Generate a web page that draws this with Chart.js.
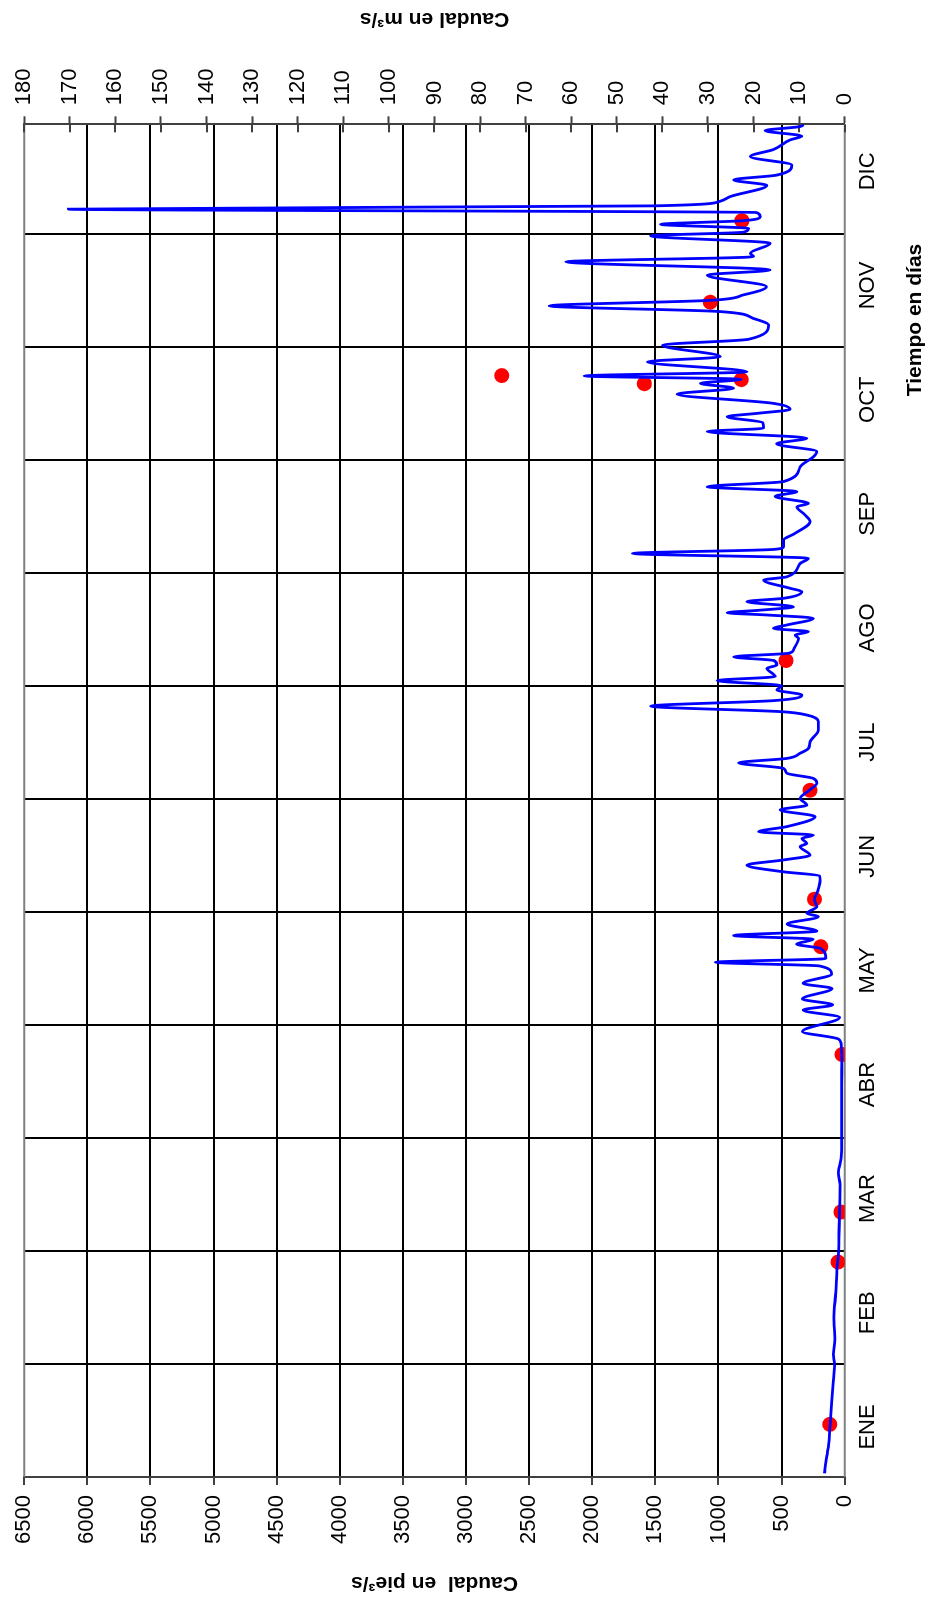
<!DOCTYPE html>
<html>
<head>
<meta charset="utf-8">
<script src="https://cdn.jsdelivr.net/npm/chart.js@4.4.0/dist/chart.umd.min.js"></script>
<style>
html, body { margin: 0; padding: 0; width: 932px; height: 1602px; overflow: hidden; background: #fff; }
#wrap { position: absolute; left: 0; top: 0; width: 1602px; height: 932px;
        transform-origin: 0 0; transform: translateY(1602px) rotate(-90deg); }
</style>
</head>
<body>
<div id="wrap"><canvas id="chart" width="1602" height="932"></canvas></div>
<script>
// chart is drawn landscape and the whole block is turned 90deg to the left

const monthLabels = ['ENE', 'FEB', 'MAR', 'ABR', 'MAY', 'JUN', 'JUL', 'AGO', 'SEP', 'OCT', 'NOV', 'DIC'];

// daily flow (pie3/s), read at the turning points of the curve
const flowDays = [
    1, 4, 6, 8, 14, 20, 26, 30.5, 33, 37, 43, 50, 56, 60, 66, 72, 79, 82, 86, 91,
    100, 106, 113, 117, 118.2, 120.2, 124, 126, 127.4, 129, 131.8, 133.2, 135.7, 137.9, 138.9, 139.9,
    142.6, 143.8, 145.1, 146.1, 147.3, 149.2, 151.2, 152.1, 153.9, 155.9, 158, 161.1, 162.2, 163.3,
    165.1, 166.5, 167.8, 170.1, 171, 172.3, 173.2, 174.1, 175.5, 178.2, 180, 181.3, 183.1, 185.3,
    187.2, 188.5, 189.9, 191.2, 192.7, 193.9, 195.3, 196.6, 198.4, 201.6, 203.8, 205.6, 206.5, 208,
    209.5, 211, 212.4, 213.5, 214.9, 216, 218.2, 219.1, 220.3, 221.3, 222.3, 223.2, 226.3, 227.2,
    228.1, 229, 229.9, 231.7, 232.6, 233.2, 233.9, 234.8, 236.2, 237.1, 238.9, 239.8, 242, 242.9,
    246.5, 247.9, 249.2, 250.3, 251, 252.8, 254.5, 257.8, 259.6, 261.8, 262.7, 264.6, 265.9, 267.2,
    268.6, 272.6, 275.3, 276.7, 278.8, 280.3, 282.1, 283, 284.5, 286.1, 287, 288.1, 289.7, 292.2,
    293.8, 295.1, 296.2, 297.1, 298.2, 300.9, 302.3, 305.4, 307, 310.8, 312.6, 314.5, 316, 317.5,
    319, 321.2, 324.3, 325.7, 327.9, 329.3, 330.2, 332.9, 334.9, 335.9, 336.9, 338, 339, 340.1,
    341.2, 342.1, 343, 344.2, 345.5, 348.5, 350, 351.3, 354, 356.3, 358.2, 360.8, 361.8, 363.3,
    364.4, 365
];
const flowValues = [
    160, 150, 140, 130, 116, 104, 90, 80, 90, 78, 85, 70, 62, 50, 45, 40, 37, 50, 29, 24,
    24, 24, 23, 29, 50, 335, 40, 330, 95, 335, 100, 330, 103, 200, 1024, 150,
    190, 380, 250, 880, 220, 455, 208, 300, 221, 240, 215, 195, 200, 485,
    774, 485, 274, 353, 300, 340, 248, 682, 458, 235, 511, 300, 353, 280,
    221, 248, 458, 485, 840, 458, 353, 287, 274, 208, 208, 300, 498, 1538,
    560, 340, 537, 498, 1011, 550, 616, 537, 560, 880, 440, 406, 366, 393,
    287, 564, 458, 248, 616, 932, 669, 406, 774, 485, 340, 432, 643, 458,
    353, 287, 1682, 560, 485, 485, 400, 274, 314, 379, 287, 550, 379, 1090,
    485, 353, 248, 221, 540, 300, 1090, 643, 650, 932, 695, 432, 564, 1327,
    880, 1143, 820, 2064, 774, 1564, 985, 1445, 760, 603, 722, 1000, 2341, 1064,
    800, 620, 1090, 590, 2209, 722, 748, 590, 1538, 800, 761, 1459, 800, 669,
    700, 6150, 1500, 990, 906, 616, 880, 537, 419, 748, 564, 432, 340, 630,
    353, 327
];

// measured flows (red dots)
const sampleDays = [14.2, 58, 71.5, 114, 143.1, 155.9, 185.3, 220.3, 295.0, 296.1, 297.2, 317.0, 339.0];
const sampleValues = [118, 53, 30, 21, 190, 240, 275, 465, 1587, 820, 2717, 1065, 815];

const gridStep = 30.5;
const gridDays = [];
for (let i = 1; i < 12; i++) gridDays.push(i * gridStep);
const labelDays = monthLabels.map((m, i) => 13.5 + i * 30.8);

Chart.defaults.font.family = "'Liberation Sans', Arial, sans-serif";
Chart.defaults.font.size = 22;
Chart.defaults.color = '#000';

// borders, inner ticks of right axis, axis titles
const decoPlugin = {
    id: 'deco',
    beforeDatasetsDraw(chart) {
        const { ctx, chartArea: a, scales } = chart;
        ctx.save();
        ctx.lineWidth = 2;
        ctx.strokeStyle = '#808080';
        ctx.beginPath();
        ctx.moveTo(a.left, a.top); ctx.lineTo(a.right, a.top);
        ctx.moveTo(a.left, a.bottom); ctx.lineTo(a.right, a.bottom);
        ctx.stroke();
        ctx.strokeStyle = '#404040';
        ctx.beginPath();
        scales.y1.ticks.forEach(t => {
            const y = Math.round(scales.y1.getPixelForValue(t.value));
            ctx.moveTo(a.right - 8, y);
            ctx.lineTo(a.right, y);
        });
        ctx.stroke();
        ctx.restore();
    },
    afterDraw(chart) {
        const { ctx, chartArea: a } = chart;
        const midY = (a.top + a.bottom) / 2;
        ctx.save();
        ctx.fillStyle = '#000';
        ctx.font = "bold 21px 'Liberation Sans', Arial, sans-serif";
        ctx.textAlign = 'center';
        ctx.textBaseline = 'middle';

        ctx.save();
        ctx.translate(19, midY);
        ctx.rotate(-Math.PI / 2);
        ctx.fillText('Caudal  en pie³/s', 0, 0);
        ctx.restore();

        ctx.save();
        ctx.translate(1583, midY);
        ctx.rotate(-Math.PI / 2);
        ctx.fillText('Caudal en m³/s', 0, 0);
        ctx.restore();

        ctx.fillText('Tiempo en días', 1282, 915);
        ctx.restore();
    }
};

new Chart(document.getElementById('chart'), {
    type: 'scatter',
    data: {
        datasets: [
            {
                type: 'line',
                label: 'Caudal diario',
                data: flowDays.map((d, i) => ({ x: d, y: flowValues[i] })),
                borderColor: '#0000ff',
                borderWidth: 2.8,
                pointRadius: 0,
                cubicInterpolationMode: 'monotone',
                fill: false,
                order: 0
            },
            {
                type: 'scatter',
                label: 'Aforos',
                data: sampleDays.map((d, i) => ({ x: d, y: sampleValues[i] })),
                pointRadius: 7.5,
                pointBackgroundColor: '#ff0000',
                pointBorderWidth: 0,
                showLine: false,
                order: 1
            }
        ]
    },
    options: {
        responsive: false,
        animation: false,
        devicePixelRatio: 1,
        layout: { padding: { top: 21.7, left: 0, right: 0, bottom: 0 } },
        plugins: { legend: { display: false }, tooltip: { enabled: false } },
        scales: {
            x: {
                type: 'linear', position: 'bottom', min: 0, max: 365,
                afterBuildTicks: s => { s.ticks = gridDays.map(v => ({ value: v })); },
                afterFit: s => { s.height = 0; },
                ticks: { display: false },
                grid: { color: '#000', lineWidth: 2, drawTicks: false },
                border: { display: false }
            },
            xm: {
                type: 'linear', position: 'bottom', min: 0, max: 365,
                afterBuildTicks: s => { s.ticks = labelDays.map(v => ({ value: v })); },
                afterFit: s => { s.height = 87.3; },
                ticks: { callback: (v, i) => monthLabels[i], padding: 10, maxRotation: 0, autoSkip: false },
                grid: { display: false, drawTicks: false },
                border: { display: false }
            },
            y: {
                type: 'linear', position: 'left', min: 0, max: 6500,
                afterFit: s => { s.width = 125; },
                ticks: { stepSize: 500, padding: 10, callback: v => String(v) },
                grid: {
                    color: c => (c.tick && (c.tick.value === 0 || c.tick.value === 6500)) ? 'rgba(0,0,0,0)' : '#000',
                    lineWidth: 2, tickLength: 8, tickColor: '#404040', tickWidth: 2
                },
                border: { color: '#404040', width: 2 }
            },
            y1: {
                type: 'linear', position: 'right', min: 0, max: 180,
                afterFit: s => { s.width = 124.3; },
                ticks: { stepSize: 10, padding: 11, callback: v => String(v) },
                grid: { drawOnChartArea: false, tickLength: 8, tickColor: '#404040', tickWidth: 2 },
                border: { color: '#404040', width: 2 }
            }
        }
    },
    plugins: [decoPlugin]
});
</script>
</body>
</html>
